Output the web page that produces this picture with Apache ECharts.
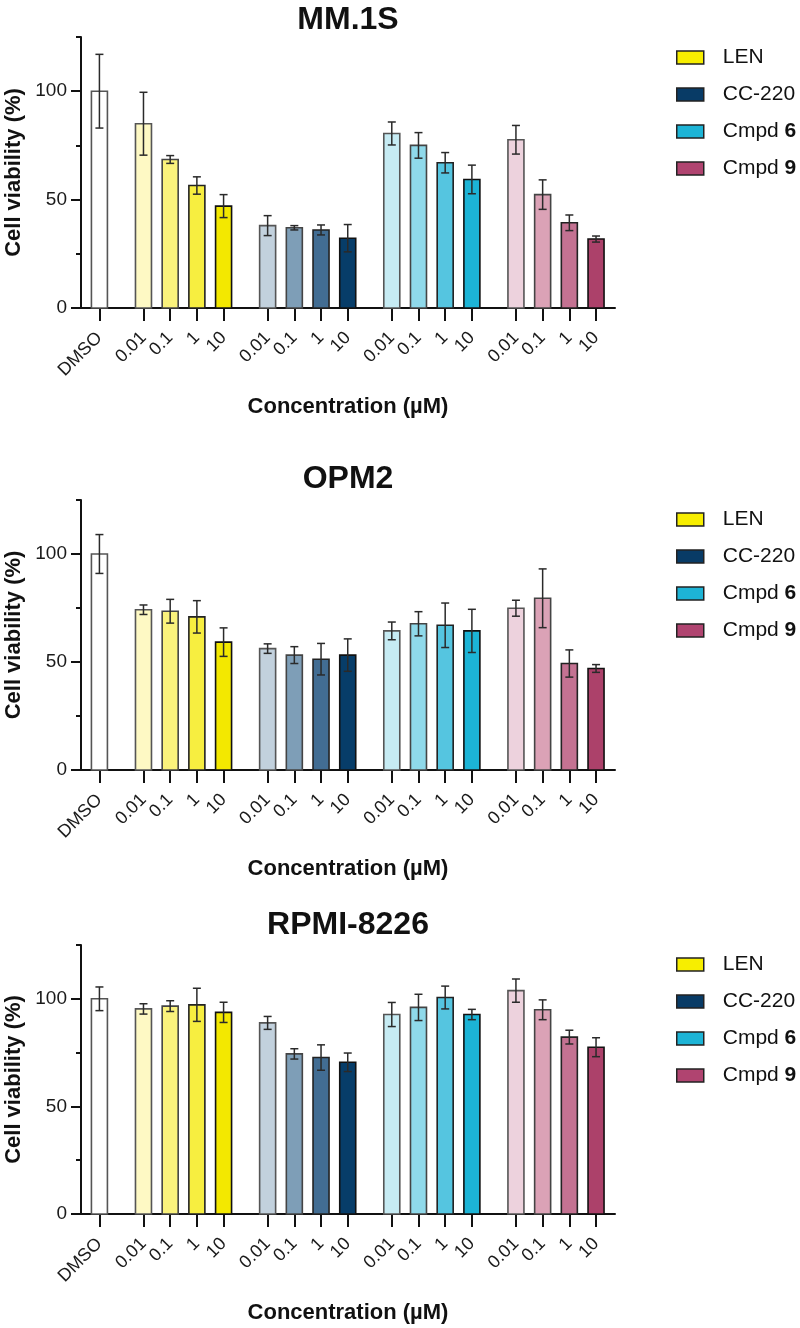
<!DOCTYPE html>
<html>
<head>
<meta charset="utf-8">
<script src="https://cdn.jsdelivr.net/npm/echarts@6/dist/echarts.min.js"></script>
<style>
html,body{margin:0;padding:0;background:#fff;}
#chart{width:800px;height:1328px;}
</style>
</head>
<body>
<div id="chart"></div>
<script>
// ---------------- DATA ----------------
const panelTitles = ['MM.1S', 'OPM2', 'RPMI-8226'];
const groups = ['LEN', 'CC-220', 'Cmpd 6', 'Cmpd 9'];
const concentrations = ['0.01', '0.1', '1', '10'];
const controlLabel = 'DMSO';
const yTickLabels = [0, 50, 100];

// order: DMSO, LEN x4, CC-220 x4, Cmpd 6 x4, Cmpd 9 x4
const MM1S_MEAN = [100, 85, 68.5, 56.5, 47, 38, 37, 36, 32.2, 80.5, 75, 67, 59.3, 77.6, 52.3, 39.3, 31.8];
const MM1S_ERR  = [17, 14.5, 1.8, 4, 5.3, 4.6, 1, 2.3, 6.3, 5.3, 5.9, 4.7, 6.6, 6.6, 6.8, 3.6, 1.4];
const OPM2_MEAN = [100, 74.2, 73.5, 70.9, 59.2, 56.2, 53.2, 51.3, 53.2, 64.4, 67.7, 67, 64.4, 74.9, 79.5, 49.3, 47];
const OPM2_ERR  = [9, 2.2, 5.5, 7.5, 6.6, 2.2, 3.9, 7.3, 7.5, 4.1, 5.6, 10.3, 10, 3.7, 13.6, 6.3, 1.8];
const RPMI_MEAN = [100, 95.3, 96.6, 97.2, 93.7, 88.8, 74.4, 72.7, 70.5, 92.7, 96, 100.6, 92.7, 103.8, 94.9, 82.2, 77.5];
const RPMI_ERR  = [5.5, 2.4, 2.5, 7.7, 4.7, 3, 2.4, 5.9, 4.3, 5.6, 6.1, 5.3, 2.4, 5.4, 4.6, 3.2, 4.4];

// ---------------- STYLE / LAYOUT ----------------
const FONT = "'Liberation Sans', Arial, Helvetica, sans-serif";
const palettes = {
  'LEN':    ['#FEF9C4', '#FAF27C', '#F7EE40', '#F3E800'],
  'CC-220': ['#C2D1DD', '#7E9EB7', '#426D93', '#073D69'],
  'Cmpd 6': ['#C6EBF3', '#8FD9EA', '#55C5E0', '#1CB4D6'],
  'Cmpd 9': ['#EDD2DD', '#DBA2B6', '#C47292', '#AC416A']
};
const legendColors = {'LEN': '#F7EE00', 'CC-220': '#083B66', 'Cmpd 6': '#1DB4D6', 'Cmpd 9': '#B04470'};
const borderShades = ['#555', '#444', '#222', '#111'];
const panelLayout = [
  {top: 37,  height: 271, titleTop: 4,   legendTop: 47},
  {top: 500, height: 270, titleTop: 463, legendTop: 509},
  {top: 945, height: 269, titleTop: 909, legendTop: 954}
];
const GRID_LEFT = 81, GRID_W = 534;
const GROUP_GAP = 1.65;     // slot units between groups
const X_MIN = -0.69, X_PAD_RIGHT = 0.71;
const BAR_W = 16, CAP_W = 8;

// x positions (layout) computed from structure
const xPositions = [0];
const xLabels = [controlLabel];
groups.forEach((g, gi) => {
  const start = GROUP_GAP + gi * (concentrations.length - 1 + GROUP_GAP);
  concentrations.forEach((c, ci) => { xPositions.push(start + ci); xLabels.push(c); });
});
const X_MAX = xPositions[xPositions.length - 1] + X_PAD_RIGHT;

const panelData = [[MM1S_MEAN, MM1S_ERR], [OPM2_MEAN, OPM2_ERR], [RPMI_MEAN, RPMI_ERR]];

function makeRender(fills, borders) {
  return function (params, api) {
    const x = api.value(0), y = api.value(1), e = api.value(2), k = api.value(3);
    const p0 = api.coord([x, 0]);
    const p1 = api.coord([x, y]);
    const pt = api.coord([x, y + e]);
    const pb = api.coord([x, y - e]);
    const cx = p0[0];
    return {
      type: 'group',
      children: [
        {type: 'rect', shape: {x: cx - BAR_W / 2, y: p1[1], width: BAR_W, height: p0[1] - p1[1]},
         style: {fill: fills[k], stroke: borders[k], lineWidth: 1.6}},
        {type: 'line', shape: {x1: cx, y1: pt[1], x2: cx, y2: pb[1]},
         style: {stroke: '#2a2a2a', lineWidth: 1.5}},
        {type: 'line', shape: {x1: cx - CAP_W / 2, y1: pt[1], x2: cx + CAP_W / 2, y2: pt[1]},
         style: {stroke: '#2a2a2a', lineWidth: 1.5}},
        {type: 'line', shape: {x1: cx - CAP_W / 2, y1: pb[1], x2: cx + CAP_W / 2, y2: pb[1]},
         style: {stroke: '#2a2a2a', lineWidth: 1.5}}
      ]
    };
  };
}

const option = {
  animation: false,
  backgroundColor: '#fff',
  textStyle: {fontFamily: FONT},
  title: [], legend: [], grid: [], xAxis: [], yAxis: [], series: []
};

panelLayout.forEach((L, p) => {
  option.title.push({
    text: panelTitles[p], left: GRID_LEFT + GRID_W / 2, top: L.titleTop, textAlign: 'center', padding: 0,
    textStyle: {fontFamily: FONT, fontSize: 32, fontWeight: 'bold', color: '#111'}
  });
  option.legend.push({
    orient: 'vertical', left: 676, top: L.legendTop, padding: 0, data: groups.slice(),
    icon: 'rect', itemWidth: 27, itemHeight: 13, itemGap: 16, selectedMode: false,
    itemStyle: {borderColor: '#222', borderWidth: 1.5},
    formatter: function (name) {
      const m = name.match(/^(Cmpd )(\d+)$/);
      return m ? m[1] + '{b|' + m[2] + '}' : name;
    },
    textStyle: {fontFamily: FONT, fontSize: 21, color: '#111', padding: [0, 0, 0, 14],
      rich: {b: {fontFamily: FONT, fontSize: 21, fontWeight: 'bold', color: '#111'}}}
  });
  option.grid.push({left: GRID_LEFT, top: L.top, width: GRID_W, height: L.height,
    containLabel: false, outerBoundsMode: 'none'});
  option.xAxis.push({
    type: 'value', gridIndex: p, min: X_MIN, max: X_MAX,
    name: 'Concentration (µM)', nameLocation: 'middle', nameGap: 88, nameMoveOverlap: false,
    nameTextStyle: {fontFamily: FONT, fontSize: 22, fontWeight: 'bold', color: '#111'},
    axisLine: {show: true, onZero: false, lineStyle: {color: '#111', width: 2}},
    axisTick: {show: true, customValues: xPositions, length: 13, lineStyle: {color: '#111', width: 2}},
    axisLabel: {
      show: true, customValues: xPositions, rotate: 45, margin: 27,
      fontFamily: FONT, fontSize: 18, color: '#1a1a1a',
      formatter: function (v) {
        const i = xPositions.findIndex(q => Math.abs(q - v) < 1e-6);
        return i >= 0 ? xLabels[i] : '';
      }
    },
    splitLine: {show: false}
  });
  // main y axis (minor ticks every 25)
  option.yAxis.push({
    type: 'value', gridIndex: p, min: 0, max: 125, interval: 25,
    name: 'Cell viability (%)', nameLocation: 'middle', nameGap: 56, nameMoveOverlap: false,
    nameTextStyle: {fontFamily: FONT, fontSize: 22, fontWeight: 'bold', color: '#111'},
    axisLine: {show: true, onZero: false, lineStyle: {color: '#111', width: 2}},
    axisTick: {show: true, length: 5, lineStyle: {color: '#111', width: 2}},
    axisLabel: {show: false},
    splitLine: {show: false}
  });
  // overlay y axis (major labeled ticks)
  option.yAxis.push({
    type: 'value', gridIndex: p, min: 0, max: 125, interval: 25, position: 'left', offset: 0,
    axisLine: {show: false, onZero: false},
    axisTick: {show: true, customValues: yTickLabels, length: 10, lineStyle: {color: '#111', width: 2}},
    axisLabel: {show: true, customValues: yTickLabels, margin: 14, fontFamily: FONT, fontSize: 19, color: '#1a1a1a'},
    splitLine: {show: false}
  });

  const [MEAN, ERR] = panelData[p];
  // DMSO control
  option.series.push({
    type: 'custom', name: controlLabel, xAxisIndex: p, yAxisIndex: 2 * p,
    itemStyle: {color: '#ffffff'},
    renderItem: makeRender(['#ffffff'], ['#555']),
    encode: {x: 0, y: 1},
    data: [[xPositions[0], MEAN[0], ERR[0], 0]]
  });
  groups.forEach((g, gi) => {
    const data = concentrations.map((c, ci) => {
      const idx = 1 + gi * concentrations.length + ci;
      return [xPositions[idx], MEAN[idx], ERR[idx], ci];
    });
    option.series.push({
      type: 'custom', name: g, xAxisIndex: p, yAxisIndex: 2 * p,
      itemStyle: {color: legendColors[g]},
      renderItem: makeRender(palettes[g], borderShades),
      encode: {x: 0, y: 1},
      data: data
    });
  });
});

const chart = echarts.init(document.getElementById('chart'), null, {renderer: 'canvas'});
chart.setOption(option);
</script>
</body>
</html>
